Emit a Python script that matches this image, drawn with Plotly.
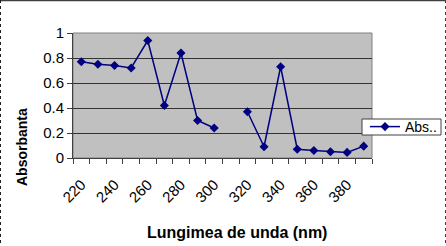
import plotly.graph_objects as go

wavelengths = [220, 230, 240, 250, 260, 270, 280, 290, 300, 310,
               320, 330, 340, 350, 360, 370, 380, 390]
absorbance = [0.77, 0.75, 0.74, 0.72, 0.94, 0.42, 0.84, 0.30, 0.24, None,
              0.37, 0.09, 0.73, 0.07, 0.06, 0.05, 0.045, 0.095]
x_tick_labels = [220, 240, 260, 280, 300, 320, 340, 360, 380]
y_tick_values = [0, 0.2, 0.4, 0.6, 0.8, 1]

W, H = 446, 246
L, R, T, B = 73, 74, 33, 88
pw = W - L - R
ph = H - T - B

def px(x):
    return (x - L) / pw

def py(y):
    return (H - B - y) / ph

navy = "#000080"
font = "Liberation Sans, Arial, sans-serif"

fig = go.Figure()
fig.add_trace(go.Scatter(
    x=wavelengths, y=absorbance, mode="lines+markers", name="Abs..",
    connectgaps=False,
    line=dict(color=navy, width=1.5),
    marker=dict(symbol="diamond", size=7, color=navy),
))

fig.update_layout(
    width=W, height=H,
    margin=dict(l=L, r=R, t=T, b=B, autoexpand=False),
    paper_bgcolor="white",
    plot_bgcolor="#c0c0c0",
    font=dict(family=font, size=14, color="black"),
    showlegend=True,
    legend=dict(x=px(365), y=py(127), xanchor="left", yanchor="middle",
                bgcolor="rgba(0,0,0,0)", borderwidth=0,
                font=dict(size=14), itemwidth=30,
                tracegroupgap=0),
    xaxis=dict(
        range=[215, 395], tickvals=x_tick_labels,
        ticktext=[str(v) for v in x_tick_labels],
        tickangle=-45, ticks="", showgrid=False, zeroline=False,
        showline=True, linecolor="#404040", linewidth=1,
        tickfont=dict(size=15), ticklabelstandoff=11,
        minor=dict(tick0=215, dtick=10, ticks="outside", ticklen=5,
                   tickcolor="#404040", showgrid=False),
        fixedrange=True, automargin=False,
    ),
    yaxis=dict(
        range=[0, 1], tickvals=y_tick_values,
        ticktext=["0", "0.2", "0.4", "0.6", "0.8", "1"],
        ticks="outside", ticklen=5, tickcolor="#404040",
        showgrid=True, gridcolor="#333333", gridwidth=1,
        zeroline=False, showline=True, linecolor="#404040", linewidth=1,
        tickfont=dict(size=15),
        fixedrange=True, automargin=False,
    ),
)

# plot area frame (top/right)
fig.add_shape(type="rect", xref="paper", yref="paper", x0=0, y0=0, x1=1, y1=1,
              line=dict(color="#808080", width=1), layer="below")

# legend box
fig.add_shape(type="rect", xref="paper", yref="paper",
              x0=px(362), x1=px(441), y0=py(135), y1=py(119),
              fillcolor="white", line=dict(color="#404040", width=1), layer="above")

# axis titles as annotations
fig.add_annotation(text="<b>Lungimea de unda (nm)</b>", xref="paper", yref="paper",
                   x=px(237), y=py(232), showarrow=False,
                   font=dict(size=16, family=font), xanchor="center", yanchor="middle")
fig.add_annotation(text="<b>Absorbanta</b>", xref="paper", yref="paper",
                   x=px(22), y=py(147), showarrow=False, textangle=-90,
                   font=dict(size=14, family=font), xanchor="center", yanchor="middle")

# outer chart borders
fig.add_shape(type="line", xref="paper", yref="paper",
              x0=px(0), x1=px(446), y0=py(0.5), y1=py(0.5),
              line=dict(color="#404040", width=1.5))
fig.add_shape(type="line", xref="paper", yref="paper",
              x0=px(0.5), x1=px(0.5), y0=py(0), y1=py(246),
              line=dict(color="#202020", width=1, dash="dot"))
fig.add_shape(type="line", xref="paper", yref="paper",
              x0=px(445.5), x1=px(445.5), y0=py(0), y1=py(246),
              line=dict(color="#404040", width=1, dash="dot"))

fig.write_html("out.html")
